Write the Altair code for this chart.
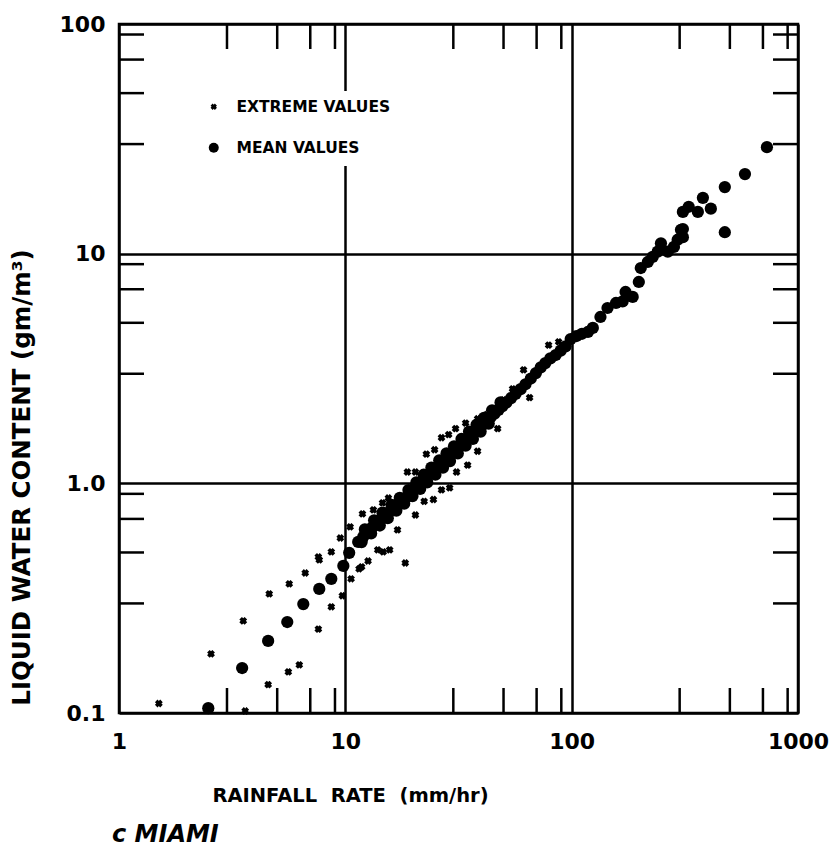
import altair as alt
import pandas as pd

# ---- data ----
mean_rate = [2.48, 3.50, 4.56, 5.54, 6.52, 7.67, 8.67, 9.80, 10.4, 11.4, 12.0, 12.5, 13.1, 13.7,
             14.3, 14.9, 15.6, 16.3, 17.0, 17.8, 18.6, 19.4, 20.2, 21.0, 21.8, 22.6, 23.4, 24.3,
             25.2, 26.2, 27.2, 28.3, 29.4, 30.6, 31.8, 33.0, 34.4, 35.8, 37.3, 38.8, 40.4, 42.0,
             43.8, 45.6, 47.5, 49.5, 51.5, 54.0, 56.5, 59.5, 62.5, 66.0, 69.5, 73.0, 76.5, 80.5,
             85.0, 89.4, 94.0, 99.0, 105, 111, 118, 124, 134, 144, 157, 168, 173, 186, 198, 202,
             217, 228, 240, 248, 266, 283, 294, 304, 310, 310, 310, 329, 361, 380, 412, 475, 475,
             583, 729,
             # second row of overlapping means that thickens the band
             12.2, 13.4, 14.6, 16.0, 17.4, 19.0, 20.6, 22.2, 24.0, 26.0, 28.0, 30.2, 32.6,
             35.2, 38.0, 41.0, 44.5, 48.5,
             11.8, 13.0, 14.2, 15.4, 16.8, 18.2, 19.8, 21.4, 23.0, 25.0, 27.0, 29.0, 31.4,
             34.0, 36.6, 39.6, 43.0]
mean_lwc = [0.105, 0.157, 0.206, 0.249, 0.298, 0.347, 0.384, 0.437, 0.498, 0.556, 0.585, 0.614,
            0.640, 0.665, 0.693, 0.720, 0.750, 0.782, 0.810, 0.840, 0.870, 0.910, 0.950, 0.985,
            1.02, 1.05, 1.09, 1.13, 1.17, 1.21, 1.25, 1.30, 1.35, 1.40, 1.45, 1.50, 1.56, 1.62,
            1.68, 1.74, 1.80, 1.86, 1.94, 2.01, 2.09, 2.17, 2.25, 2.35, 2.45, 2.57, 2.70, 2.86,
            3.02, 3.20, 3.34, 3.50, 3.62, 3.78, 3.95, 4.25, 4.38, 4.48, 4.56, 4.75, 5.30, 5.80,
            6.10, 6.20, 6.81, 6.48, 7.53, 8.66, 9.20, 9.68, 10.2, 11.1, 10.2, 10.7, 11.5, 12.7,
            11.8, 12.8, 15.2, 16.0, 15.2, 17.5, 15.7, 19.5, 12.4, 22.2, 29.1,
            0.630, 0.690, 0.745, 0.805, 0.865, 0.935, 1.01, 1.09, 1.17, 1.26, 1.35, 1.45, 1.56,
            1.68, 1.80, 1.93, 2.08, 2.25,
            0.555, 0.605, 0.655, 0.705, 0.760, 0.815, 0.880, 0.945, 1.01, 1.09, 1.17, 1.25, 1.35,
            1.46, 1.56, 1.68, 1.82]

ext_rate = [1.50, 2.55, 3.61, 3.54, 4.56, 4.61, 5.60, 5.65, 6.26, 6.65, 7.60, 7.67, 7.60, 8.67,
            8.67, 9.70, 9.50, 10.6, 10.5, 11.5, 11.8, 11.9, 12.6, 13.3, 13.9, 14.6, 14.7, 15.5,
            15.7, 17.0, 18.4, 18.8, 20.4, 20.4, 22.3, 22.8, 24.5, 24.8, 26.6, 26.6, 28.6, 28.9,
            30.7, 31.0, 34.0, 34.7, 38.4, 38.4, 42.1, 46.1, 47.1, 50.0, 54.8, 61.3, 65.2, 79.1,
            87.6]
ext_lwc = [0.110, 0.181, 0.102, 0.252, 0.133, 0.330, 0.151, 0.365, 0.162, 0.407, 0.232, 0.464,
           0.478, 0.290, 0.503, 0.324, 0.578, 0.384, 0.646, 0.424, 0.433, 0.736, 0.459, 0.766,
           0.513, 0.822, 0.503, 0.863, 0.513, 0.627, 0.450, 1.12, 0.728, 1.12, 0.835, 1.34,
           0.85, 1.40, 0.936, 1.58, 1.63, 0.955, 1.73, 1.12, 1.83, 1.20, 1.91, 1.38, 1.99, 2.09,
           1.73, 2.31, 2.58, 3.12, 2.36, 4.00, 4.13]

x_labels = [1, 10, 100, 1000]
y_labels = [0.1, 1, 10, 100]
x_minor = [3, 5, 7, 9, 30, 50, 70, 90, 300, 500, 700, 900]
y_minor = [0.3, 0.5, 0.7, 0.9, 3, 5, 7, 9, 30, 50, 70, 90]

series_names = ["EXTREME VALUES", "MEAN VALUES"]
caption = ["c MIAMI"]

# ---- layout ----
W, H = 679, 689
TICK = 25
FONT = "DejaVu Sans"
XPATH = ("M-0.64,-0.22L-0.22,-0.64L0,-0.42L0.22,-0.64L0.64,-0.22L0.42,0L0.64,0.22"
         "L0.22,0.64L0,0.42L-0.22,0.64L-0.64,0.22L-0.42,0Z")

df = pd.concat([
    pd.DataFrame({"rate": ext_rate, "lwc": ext_lwc, "type": series_names[0]}),
    pd.DataFrame({"rate": mean_rate, "lwc": mean_lwc, "type": series_names[1]}),
], ignore_index=True)

xscale = alt.Scale(type="log", domain=[1, 1000], nice=False)
yscale = alt.Scale(type="log", domain=[0.1, 100], nice=False)

xaxis = alt.Axis(values=x_labels, labelExpr="format(datum.value, 'd')", grid=True,
                 gridColor="black", gridWidth=2.5, gridOpacity=1, ticks=False, domain=False,
                 labelFont=FONT, labelFontSize=22, labelFontWeight="bold", labelColor="black",
                 labelPadding=18, labelFlush=False, labelOverlap=False,
                 title="RAINFALL\u00a0\u00a0RATE\u00a0\u00a0(mm/hr)", titleFont=FONT,
                 titleFontSize=19.5, titleFontWeight="bold", titleColor="black",
                 titleX=231, titleY=82, titleAlign="center", titleBaseline="middle")
yaxis = alt.Axis(values=y_labels,
                 labelExpr="datum.value >= 10 ? format(datum.value, 'd') : format(datum.value, '.1f')",
                 grid=True, gridColor="black", gridWidth=2.5, gridOpacity=1, ticks=False,
                 domain=False, labelFont=FONT, labelFontSize=22, labelFontWeight="bold",
                 labelColor="black", labelPadding=14, labelFlush=False, labelOverlap=False,
                 title="LIQUID WATER CONTENT (gm/m\u00b3)", titleFont=FONT, titleFontSize=24.5,
                 titleFontWeight="bold", titleColor="black", titleX=-97, titleY=453,
                 titleAngle=-90, titleAlign="center", titleBaseline="middle")

points = alt.Chart(df).mark_point(filled=True, opacity=1, size=150, color="black").encode(
    x=alt.X("rate:Q", scale=xscale, axis=xaxis),
    y=alt.Y("lwc:Q", scale=yscale, axis=yaxis),
    shape=alt.Shape("type:N", scale=alt.Scale(domain=series_names, range=[XPATH, "circle"]),
                    legend=alt.Legend(title=None, orient="none", legendX=79, legendY=67,
                                      padding=8, fillColor="white", strokeColor="white",
                                      rowPadding=24, labelFont=FONT, labelFontSize=15.5,
                                      labelFontWeight="bold", labelColor="black",
                                      labelOffset=15, symbolSize=100,
                                      symbolFillColor="black", symbolStrokeWidth=0,
                                      symbolOpacity=1)),
)

xt = pd.DataFrame({"rate": x_minor})
yt = pd.DataFrame({"lwc": y_minor})
rule = dict(color="black", strokeWidth=2.5)
bottom_ticks = alt.Chart(xt).mark_rule(**rule).encode(
    x=alt.X("rate:Q", scale=xscale, axis=xaxis), y=alt.value(H - TICK), y2=alt.value(H))
top_ticks = alt.Chart(xt).mark_rule(**rule).encode(
    x=alt.X("rate:Q", scale=xscale, axis=xaxis), y=alt.value(0), y2=alt.value(TICK))
left_ticks = alt.Chart(yt).mark_rule(**rule).encode(
    y=alt.Y("lwc:Q", scale=yscale, axis=yaxis), x=alt.value(0), x2=alt.value(TICK))
right_ticks = alt.Chart(yt).mark_rule(**rule).encode(
    y=alt.Y("lwc:Q", scale=yscale, axis=yaxis), x=alt.value(W - TICK), x2=alt.value(W))

cap = alt.Chart(pd.DataFrame({"t": caption})).mark_text(
    align="left", baseline="middle", font=FONT, fontSize=24, fontStyle="italic",
    fontWeight="bold", color="black").encode(text="t:N", x=alt.value(-7), y=alt.value(811))

chart = alt.layer(points, bottom_ticks, top_ticks, left_ticks, right_ticks, cap).properties(
    width=W, height=H, autosize=alt.AutoSizeParams(type="none"),
    padding={"left": 119, "top": 24, "right": 32, "bottom": 152},
).configure(background="white").configure_view(stroke="black", strokeWidth=2.5)

chart.save("out.html", embed_options={"renderer": "svg", "actions": False})
